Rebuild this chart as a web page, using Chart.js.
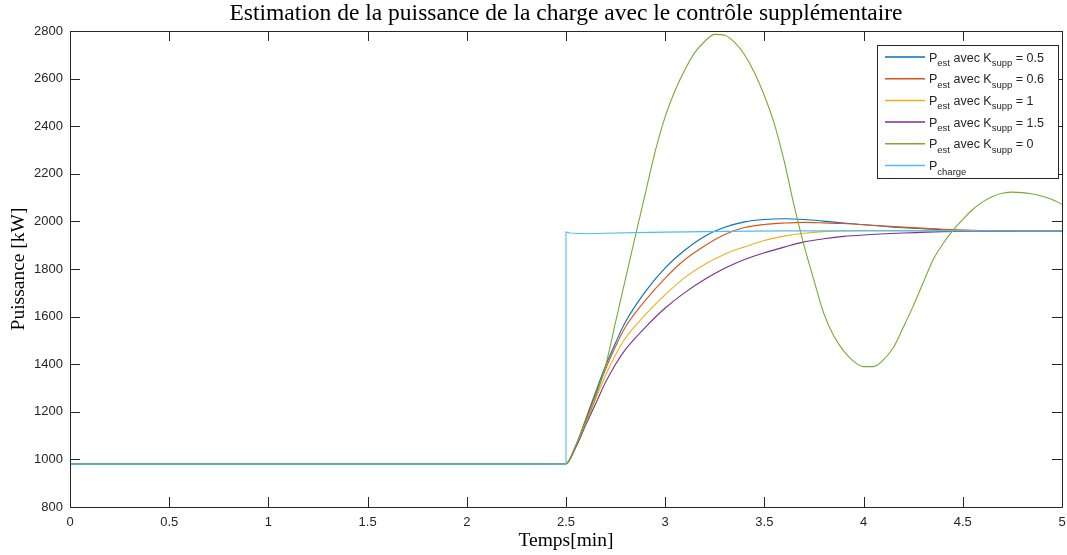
<!DOCTYPE html>
<html>
<head>
<meta charset="utf-8">
<script src="https://cdn.jsdelivr.net/npm/chart.js@4/dist/chart.umd.min.js"></script>
<style>
  html, body { margin: 0; padding: 0; background: #fff; }
  #wrap { width: 1067px; height: 555px; }
</style>
</head>
<body>
<div id="wrap"><canvas id="estChart" width="1067" height="555"></canvas></div>
<script>
// --- Data ---
const chartTitle = 'Estimation de la puissance de la charge avec le contrôle supplémentaire';
const xTicks = [0, 0.5, 1, 1.5, 2, 2.5, 3, 3.5, 4, 4.5, 5];
const yTicks = [800, 1000, 1200, 1400, 1600, 1800, 2000, 2200, 2400, 2600, 2800];

const timesK = [0, 0.5, 1, 1.5, 2, 2.5, 2.55, 2.6, 2.65, 2.7, 2.75, 2.8, 2.9, 3.0, 3.1, 3.2, 3.3, 3.4, 3.5, 3.6, 3.7, 3.8, 3.9, 4.0, 4.2, 4.4, 4.6, 4.8, 5.0];
const pEstK05 = [980, 980, 980, 980, 980, 982, 1060, 1170, 1285, 1395, 1490, 1578, 1705, 1805, 1880, 1938, 1975, 1998, 2008, 2011, 2008, 2001, 1993, 1986, 1973, 1965, 1961, 1960, 1960];
const pEstK06 = [980, 980, 980, 980, 980, 982, 1058, 1165, 1275, 1380, 1475, 1557, 1668, 1762, 1840, 1898, 1945, 1974, 1987, 1993, 1996, 1994, 1991, 1986, 1976, 1967, 1962, 1960, 1960];
const pEstK1 = [980, 980, 980, 980, 980, 982, 1055, 1155, 1255, 1355, 1440, 1510, 1608, 1692, 1765, 1820, 1862, 1893, 1920, 1938, 1950, 1957, 1960, 1962, 1962, 1961, 1960, 1960, 1960];
const pEstK15 = [980, 980, 980, 980, 980, 982, 1052, 1145, 1235, 1325, 1400, 1462, 1555, 1636, 1702, 1757, 1803, 1840, 1868, 1892, 1914, 1927, 1937, 1943, 1951, 1957, 1959, 1960, 1960];

const timesK0 = [0, 0.5, 1, 1.5, 2, 2.5, 2.55, 2.6, 2.65, 2.7, 2.75, 2.8, 2.85, 2.9, 2.95, 3.0, 3.05, 3.1, 3.15, 3.2, 3.25, 3.3, 3.35, 3.4, 3.45, 3.5, 3.55, 3.6, 3.65, 3.7, 3.75, 3.8, 3.85, 3.9, 3.95, 4.0, 4.05, 4.1, 4.15, 4.2, 4.25, 4.3, 4.35, 4.4, 4.45, 4.5, 4.55, 4.6, 4.65, 4.7, 4.75, 4.8, 4.85, 4.9, 4.95, 5.0];
const pEstK0 = [980, 980, 980, 980, 980, 982, 1060, 1155, 1262, 1395, 1578, 1760, 1940, 2118, 2295, 2440, 2550, 2638, 2710, 2757, 2786, 2782, 2752, 2700, 2625, 2528, 2410, 2252, 2065, 1898, 1752, 1612, 1518, 1455, 1412, 1390, 1390, 1418, 1470, 1555, 1644, 1742, 1838, 1906, 1962, 2008, 2050, 2082, 2105, 2118, 2123, 2121, 2115, 2106, 2092, 2072];

const timesCharge = [0, 2.5, 2.5, 2.52, 2.6, 2.7, 2.85, 3.0, 3.3, 3.6, 5.0];
const pCharge = [980, 980, 1956, 1951, 1948, 1950, 1953, 1955, 1958, 1960, 1960];

// legend text pieces: [main, sub, main, sub, tail]
const legendParts = [
    ['P', 'est', ' avec K', 'supp', ' = 0.5'],
    ['P', 'est', ' avec K', 'supp', ' = 0.6'],
    ['P', 'est', ' avec K', 'supp', ' = 1'],
    ['P', 'est', ' avec K', 'supp', ' = 1.5'],
    ['P', 'est', ' avec K', 'supp', ' = 0'],
    ['P', 'charge']
];

const toXY = (xs, ys) => xs.map((x, i) => ({ x: x, y: ys[i] }));

// --- Plugins ---
const axisColor = '#262626';
const sansFont = '"Liberation Sans", Arial, sans-serif';
const serifFont = '"Liberation Serif", "Times New Roman", serif';

const matlabAxes = {
    id: 'matlabAxes',
    afterDatasetsDraw(chart) {
        const { ctx, chartArea: a, scales } = chart;
        const tl = 10;
        ctx.save();
        ctx.strokeStyle = axisColor;
        ctx.lineWidth = 1;
        ctx.beginPath();
        ctx.rect(Math.round(a.left) + 0.5, Math.round(a.top) + 0.5, Math.round(a.right - a.left), Math.round(a.bottom - a.top));
        xTicks.forEach(v => {
            const px = Math.round(scales.x.getPixelForValue(v)) + 0.5;
            ctx.moveTo(px, a.bottom); ctx.lineTo(px, a.bottom - tl);
            ctx.moveTo(px, a.top); ctx.lineTo(px, a.top + tl);
        });
        yTicks.forEach(v => {
            const py = Math.round(scales.y.getPixelForValue(v)) + 0.5;
            ctx.moveTo(a.left, py); ctx.lineTo(a.left + tl, py);
            ctx.moveTo(a.right, py); ctx.lineTo(a.right - tl, py);
        });
        ctx.stroke();

        // title centred over the plot area
        ctx.fillStyle = '#000';
        ctx.font = '23.5px ' + serifFont;
        ctx.textAlign = 'center';
        ctx.textBaseline = 'middle';
        ctx.fillText(chartTitle, (a.left + a.right) / 2, 14);
        ctx.restore();
    }
};

const subLegend = {
    id: 'subLegend',
    afterDraw(chart) {
        const { ctx, chartArea: a } = chart;
        const boxW = 181, boxH = 133;
        const bx = a.right - 4 - boxW, by = a.top + 14;
        const rowH = 21.7;
        ctx.save();
        ctx.fillStyle = '#fff';
        ctx.fillRect(bx, by, boxW, boxH);
        ctx.strokeStyle = axisColor;
        ctx.lineWidth = 1;
        ctx.strokeRect(Math.round(bx) + 0.5, Math.round(by) + 0.5, boxW, boxH);
        chart.data.datasets.forEach((ds, i) => {
            const cy = by + 12 + i * rowH;
            ctx.strokeStyle = ds.borderColor;
            ctx.lineWidth = 1.5;
            ctx.beginPath();
            ctx.moveTo(bx + 8, cy); ctx.lineTo(bx + 48, cy);
            ctx.stroke();
            let tx = bx + 52;
            ctx.fillStyle = axisColor;
            ctx.textBaseline = 'alphabetic';
            legendParts[i].forEach((part, j) => {
                const isSub = j % 2 === 1;
                ctx.font = (isSub ? '9.5px ' : '12.5px ') + sansFont;
                ctx.fillText(part, tx, cy + (isSub ? 9 : 4.5));
                tx += ctx.measureText(part).width;
            });
        });
        ctx.restore();
    }
};

// --- Chart ---
const ctx = document.getElementById('estChart').getContext('2d');
const lineOpts = { borderWidth: 1.1, pointRadius: 0, fill: false, cubicInterpolationMode: 'monotone' };

const estChart = new Chart(ctx, {
    type: 'line',
    data: {
        datasets: [
            { ...lineOpts, label: 'P_est K=0.5', data: toXY(timesK, pEstK05), borderColor: '#0072BD', order: 5 },
            { ...lineOpts, label: 'P_est K=0.6', data: toXY(timesK, pEstK06), borderColor: '#D95319', order: 4 },
            { ...lineOpts, label: 'P_est K=1', data: toXY(timesK, pEstK1), borderColor: '#EDB120', order: 3 },
            { ...lineOpts, label: 'P_est K=1.5', data: toXY(timesK, pEstK15), borderColor: '#7E2F8E', order: 2 },
            { ...lineOpts, label: 'P_est K=0', data: toXY(timesK0, pEstK0), borderColor: '#77AC30', order: 1 },
            { ...lineOpts, label: 'P_charge', data: toXY(timesCharge, pCharge), borderColor: '#4DBEEE', order: 0, cubicInterpolationMode: 'default', tension: 0 }
        ]
    },
    options: {
        responsive: false,
        animation: false,
        layout: { padding: { left: 0, right: 0, top: 31, bottom: 0 } },
        scales: {
            x: {
                type: 'linear', min: 0, max: 5,
                afterBuildTicks: s => { s.ticks = xTicks.map(v => ({ value: v })); },
                afterFit: s => { s.height = 48; s.paddingRight = 5; s.paddingLeft = 0; },
                grid: { display: false, drawTicks: false },
                border: { display: false },
                ticks: { color: axisColor, padding: 8, maxRotation: 0, autoSkip: false,
                         font: { family: sansFont, size: 13 },
                         callback: v => String(v) },
                title: { display: true, text: 'Temps[min]', color: '#000',
                         font: { family: serifFont, size: 19.5 }, padding: { top: 0, bottom: 2 } }
            },
            y: {
                type: 'linear', min: 800, max: 2800,
                afterBuildTicks: s => { s.ticks = yTicks.map(v => ({ value: v })); },
                afterFit: s => { s.width = 70; },
                grid: { display: false, drawTicks: false },
                border: { display: false },
                ticks: { color: axisColor, padding: 7, autoSkip: false,
                         font: { family: sansFont, size: 13 },
                         callback: v => String(v) },
                title: { display: true, text: 'Puissance [kW]', color: '#000',
                         font: { family: serifFont, size: 19.5 }, padding: { top: 7, bottom: 0 } }
            }
        },
        plugins: {
            legend: { display: false },
            tooltip: { enabled: false },
            title: { display: false }
        }
    },
    plugins: [matlabAxes, subLegend]
});
</script>
</body>
</html>
